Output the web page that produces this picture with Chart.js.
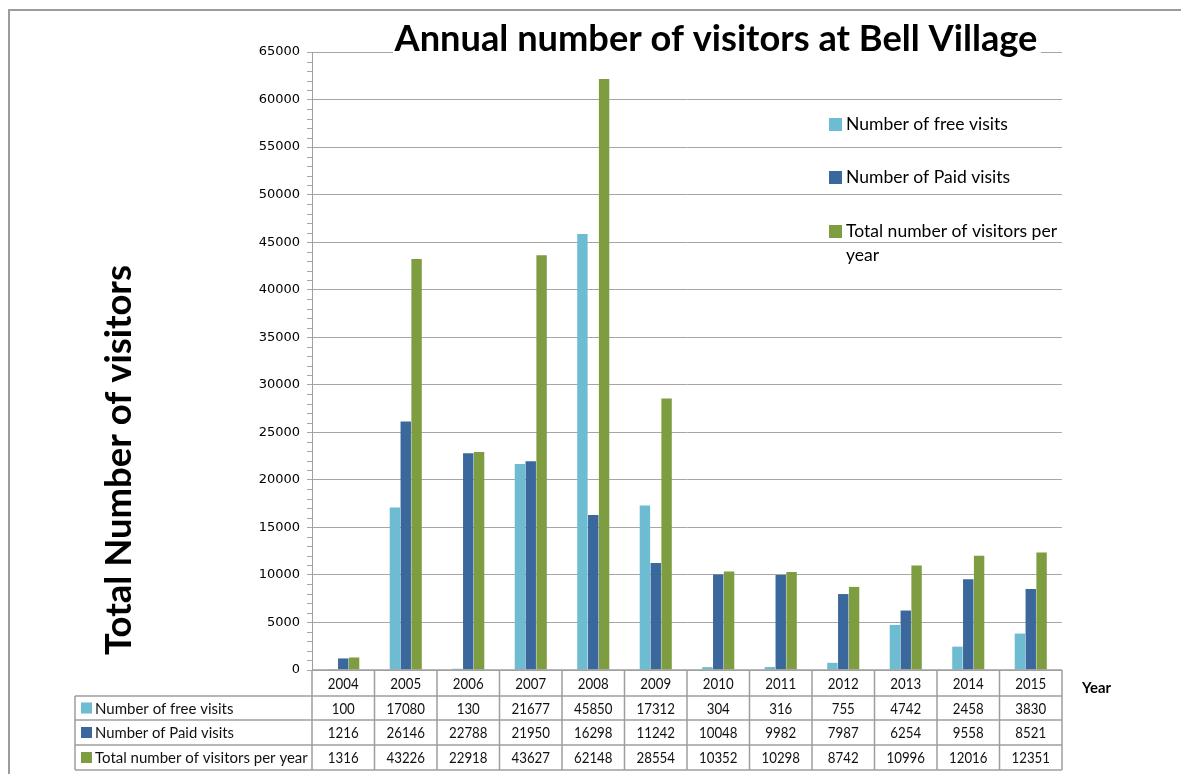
<!DOCTYPE html>
<html><head><meta charset="utf-8">
<script src="https://cdn.jsdelivr.net/npm/chart.js@4.4.1/dist/chart.umd.min.js"></script>
<style>html,body{margin:0;padding:0;background:#fff;} #wrap{width:1181px;height:774px;position:relative;}</style>
</head><body><div id="wrap"><canvas id="c"></canvas></div>
<script>
const categories = ['2004','2005','2006','2007','2008','2009','2010','2011','2012','2013','2014','2015'];
const seriesNames = ['Number of free visits','Number of Paid visits','Total number of visitors per year'];
const freeVisits = [100,17080,130,21677,45850,17312,304,316,755,4742,2458,3830];
const paidVisits = [1216,26146,22788,21950,16298,11242,10048,9982,7987,6254,9558,8521];
const totalVisitors = [1316,43226,22918,43627,62148,28554,10352,10298,8742,10996,12016,12351];
const yMin = 0, yMax = 65000, yStep = 5000, yMinorStep = 1000;
const colors = ['#6DBCD1','#3A679C','#7E9C40'];
const chartTitle = 'Annual number of visitors at Bell Village';
const yTitle = 'Total Number of visitors';
const xTitle = 'Year';
const seriesData = [freeVisits, paidVisits, totalVisitors];

const FAM = 'Lato, "Open Sans", sans-serif';
function fitSize(ctx, text, width, weight, fam){
  ctx.font = weight + ' 100px ' + (fam || FAM);
  return 100 * width / ctx.measureText(text).width;
}
function condensedText(ctx, text, x, y, perChar){
  const w = ctx.measureText(text).width;
  const target = text.length * perChar;
  if (w > target) ctx.fillText(text, x, y, target); else ctx.fillText(text, x, y);
}

const deco = {
  id: 'deco',
  afterDraw(chart){
    const ctx = chart.ctx, ca = chart.chartArea, xs = chart.scales.x, ys = chart.scales.y;
    ctx.save();
    // frame
    ctx.strokeStyle = '#9C9C9C'; ctx.lineWidth = 2;
    ctx.beginPath(); ctx.moveTo(1181, 10); ctx.lineTo(9, 10); ctx.lineTo(9, 774); ctx.stroke();

    // minor ticks
    ctx.strokeStyle = '#A6A6A6'; ctx.lineWidth = 1;
    for (let v = yMin; v <= yMax; v += yMinorStep){
      if (v % yStep === 0) continue;
      const py = Math.round(ys.getPixelForValue(v)) + 0.5;
      ctx.beginPath(); ctx.moveTo(ca.left - 5, py); ctx.lineTo(ca.left, py); ctx.stroke();
    }

    // title with white backing
    let s = fitSize(ctx, chartTitle, 643, 'bold');
    ctx.font = 'bold ' + s + 'px ' + FAM;
    ctx.fillStyle = '#fff';
    ctx.fillRect(393, 18, 648, 38);
    ctx.fillStyle = '#000'; ctx.textAlign = 'center'; ctx.textBaseline = 'alphabetic';
    ctx.fillText(chartTitle, 716, 51);

    // y title
    s = fitSize(ctx, yTitle, 390, 'bold');
    ctx.save();
    ctx.translate(131, 460); ctx.rotate(-Math.PI / 2);
    ctx.font = 'bold ' + s + 'px ' + FAM;
    ctx.textAlign = 'center'; ctx.textBaseline = 'alphabetic';
    ctx.fillText(yTitle, 0, 0);
    ctx.restore();

    // legend
    s = fitSize(ctx, seriesNames[0], 162, 'normal');
    ctx.font = 'normal ' + s + 'px ' + FAM;
    ctx.textAlign = 'left'; ctx.textBaseline = 'alphabetic';
    const baselines = [130, 183, 237];
    seriesNames.forEach((n, i) => {
      ctx.fillStyle = colors[i];
      ctx.fillRect(829, baselines[i] - 12, 13, 13);
      ctx.fillStyle = '#000';
      if (i === 2){
        ctx.fillText('Total number of visitors per', 846, baselines[i]);
        ctx.fillText('year', 846, baselines[i] + 24);
      } else {
        ctx.fillText(n, 846, baselines[i]);
      }
    });

    // data table
    const half = (xs.getPixelForValue(1) - xs.getPixelForValue(0)) / 2;
    const top = ca.bottom;
    const rowLines = [top, top + 26, top + 50, top + 75, top + 100];
    const tableLeft = 75;
    ctx.strokeStyle = '#9E9E9E'; ctx.lineWidth = 1.5;
    ctx.beginPath();
    ctx.moveTo(ca.left, rowLines[0]); ctx.lineTo(ca.right, rowLines[0]);
    for (let r = 1; r < rowLines.length; r++){ ctx.moveTo(tableLeft, rowLines[r]); ctx.lineTo(ca.right, rowLines[r]); }
    ctx.moveTo(tableLeft, rowLines[1]); ctx.lineTo(tableLeft, rowLines[4]);
    for (let i = 0; i <= categories.length; i++){
      const px = (i < categories.length ? xs.getPixelForValue(i) - half : xs.getPixelForValue(categories.length - 1) + half);
      ctx.moveTo(px, rowLines[0]); ctx.lineTo(px, rowLines[4]);
    }
    ctx.stroke();

    ctx.font = 'normal 15px ' + FAM;
    ctx.fillStyle = '#111'; ctx.textBaseline = 'middle'; ctx.textAlign = 'center';
    categories.forEach((c, i) => {
      const cx = xs.getPixelForValue(i);
      condensedText(ctx, c, cx, (rowLines[0] + rowLines[1]) / 2 + 1, 7.7);
      seriesData.forEach((arr, r) => {
        condensedText(ctx, String(arr[i]), cx, (rowLines[r + 1] + rowLines[r + 2]) / 2 + 1, 7.7);
      });
    });
    ctx.textAlign = 'left';
    seriesNames.forEach((n, r) => {
      const cy = (rowLines[r + 1] + rowLines[r + 2]) / 2;
      ctx.fillStyle = colors[r];
      ctx.fillRect(81, cy - 5.5, 11, 11);
      ctx.fillStyle = '#111';
      const lw = (r === 0) ? 149 : (r === 1 ? 139 : 213);
      const w = ctx.measureText(n).width;
      ctx.fillText(n, 95, cy + 1, Math.min(w, lw));
    });

    // x title
    s = fitSize(ctx, xTitle, 29, 'bold');
    ctx.font = 'bold ' + s + 'px ' + FAM;
    ctx.fillStyle = '#000';
    ctx.textAlign = 'left'; ctx.textBaseline = 'middle';
    ctx.fillText(xTitle, 1082, 688);

    ctx.restore();
  }
};

new Chart(document.getElementById('c'), {
  type: 'bar',
  data: {
    labels: categories,
    datasets: seriesNames.map((n, i) => ({
      label: n, data: seriesData[i], backgroundColor: colors[i],
      borderWidth: 0, categoryPercentage: 0.52, barPercentage: 0.96
    }))
  },
  options: {
    responsive: true, maintainAspectRatio: false, animation: false,
    layout: { padding: { left: 252, top: 52, right: 119, bottom: 104 } },
    plugins: { legend: { display: false }, tooltip: { enabled: false }, title: { display: false } },
    scales: {
      x: { display: false },
      y: {
        min: yMin, max: yMax,
        afterFit(scale){ scale.width = 60; },
        ticks: { stepSize: yStep, padding: 7, color: '#000', font: { family: '"DejaVu Sans"', size: 13 },
                 callback: v => String(v) },
        grid: { color: '#A6A6A6', lineWidth: 1, tickLength: 5, drawTicks: true },
        border: { color: '#A0A0A0', width: 1 }
      }
    }
  },
  plugins: [deco]
});
</script>
</body></html>
